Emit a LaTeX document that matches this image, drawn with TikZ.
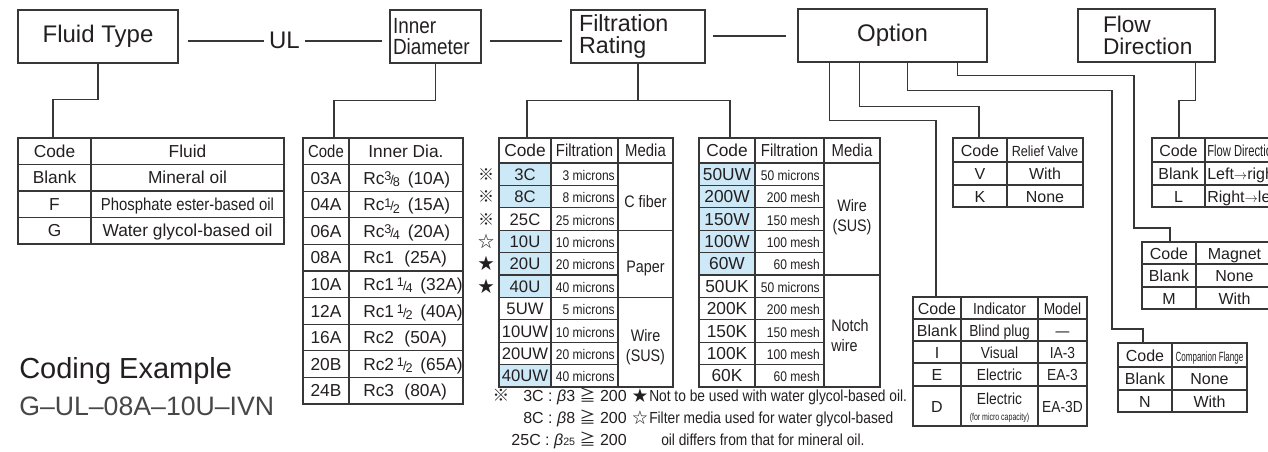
\documentclass[tikz,border=0pt]{standalone}
\usepackage{fontspec}
\setmainfont{Liberation Sans}
\newfontfamily\nrwfont[FakeStretch=0.86]{Liberation Sans}
\newfontfamily\cndfont[FakeStretch=0.7]{Liberation Sans}
\newfontfamily\cmpfont[FakeStretch=0.6]{Liberation Sans}
\newfontfamily\jpfont{Noto Sans CJK JP}
\usetikzlibrary{calc}

\definecolor{linegray}{RGB}{55,55,55}
\definecolor{textgray}{RGB}{35,31,32}
\definecolor{codeblue}{RGB}{205,232,246}

\newcommand{\frc}[2]{{\fontsize{9.5}{9.5}\selectfont\raisebox{0.55ex}{#1}\kern-0.08em/\kern-0.08em\raisebox{-0.35ex}{#2}}}

\tikzset{
  wire/.style={draw=linegray, line width=0.8pt},
  tline/.style={draw=linegray, line width=0.8pt},
  hbox/.style={draw=linegray, line width=0.8pt, text=textgray, inner sep=0pt, minimum height=39.75pt},
  htext/.style={text=textgray, inner sep=2pt, font=\fontsize{18}{20}\selectfont},
  cell/.style={inner sep=0pt, anchor=mid, yshift=-2pt, text=textgray, font=\fontsize{13}{14}\selectfont},
  ncell/.style={cell, font=\nrwfont\fontsize{13}{14}\selectfont},
  ccell/.style={cell, font=\fontsize{12.5}{14}\selectfont},
  mcell/.style={cell, anchor=mid east, font=\nrwfont\fontsize{10.5}{12}\selectfont},
  medcell/.style={cell, anchor=center, yshift=-1.5pt, align=center, font=\nrwfont\fontsize{12.5}{15}\selectfont},
  scell/.style={cell, font=\fontsize{12}{13}\selectfont},
  sncell/.style={cell, font=\nrwfont\fontsize{12}{13}\selectfont},
  symb/.style={cell, font=\jpfont\fontsize{12}{13}\selectfont},
  note/.style={inner sep=0pt, anchor=mid, yshift=-2pt, text=textgray, font=\fontsize{12}{13}\selectfont},
}

\begin{document}
\begin{tikzpicture}[x=0.75pt,y=-0.75pt]
\useasboundingbox (0,0) rectangle (1268,452);
\clip (0,0) rectangle (1268,452);

%%%%%%%%%%%%%%%%%%%Draw The Header Boxes%%%%%%%%%%%%%%%%%%
\node[hbox, minimum width=120pt, font=\fontsize{18}{20}\selectfont] (fluid) at (98,36.5) {Fluid Type};
\node[htext] (ul) at (284.5,40) {UL};
\node[hbox, text width=63.75pt, inner xsep=2.25pt, align=left, font=\nrwfont\fontsize{16.5}{16}\selectfont] (inner) at (435.5,36.5) {Inner\\Diameter};
\node[hbox, text width=88.5pt, inner xsep=6pt, align=left, font=\fontsize{17.5}{16}\selectfont] (filt) at (638,36.5) {Filtration\\Rating};
\node[hbox, minimum width=141.75pt, font=\fontsize{18}{20}\selectfont] (opt) at (892.5,35.5) {Option};
\node[hbox, text width=65.25pt, inner xsep=18.75pt, align=left, font=\fontsize{17}{16}\selectfont] (flow) at (1146.5,35.5) {Flow\\Direction};

%%%%%%%%%%%%%%%%%%%Draw The Lines Between Boxes%%%%%%%%%%%%%%%%%%
\draw[wire] ($(fluid.east)+(9,4.5)$) -- ($(ul.west)+(-2,1)$);
\draw[wire] ($(ul.east)+(2,1)$) -- ($(inner.west)+(-7,4.5)$);
\draw[wire] ($(inner.east)+(8,4.5)$) -- ($(filt.west)+(-8,4.5)$);
\draw[wire] ($(filt.east)+(7,-0.5)$) -- ($(opt.west)+(-11,0.5)$);

%%%%%%%%%%%%%%%%%%%Table Tops%%%%%%%%%%%%%%%%%%
\coordinate (fluidT) at (53,138);
\coordinate (innerT) at (334,138);
\coordinate (filtA) at (527,138);
\coordinate (filtB) at (730,138);
\coordinate (indT) at (936,297);
\coordinate (relT) at (979,138);
\coordinate (compT) at (1143,343);
\coordinate (magT) at (1170,242);
\coordinate (flowT) at (1179,138);

%%%%%%%%%%%%%%%%%%%Draw Connectors Down To Tables%%%%%%%%%%%%%%%%%%
\draw[wire] (fluid.south) -- ++(0,36) -| (fluidT);
\draw[wire] (inner.south) -- ++(0,37) -| (innerT);
\draw[wire] (filt.south) -- ++(0,37) coordinate (filtJ);
\draw[wire] (filtA) |- (filtJ) -| (filtB);
\draw[wire] ($(opt.south west)+(32,0)$) -- ++(0,58) -| (indT);
\draw[wire] ($(opt.south west)+(62,0)$) -- ++(0,44) -| (relT);
\draw[wire] ($(opt.south west)+(110,0)$) -- ++(0,28) -| (1112,329) -| (compT);
\draw[wire] ($(opt.south west)+(160,0)$) -- ++(0,13) -| (1134,228) -| (magT);
\draw[wire] ($(flow.south west)+(118,0)$) -- ++(0,38) -| (flowT);

%%%%%%%%%%%%%%%%%%%Fluid Table%%%%%%%%%%%%%%%%%%
\draw[tline] (18,138) rectangle (284,244);
\draw[tline] (91,138) -- (91,244);
\foreach \y in {164.5,191,217.5} \draw[tline] (18,\y) -- (284,\y);
\node[cell] (flc0) at (54.5,151) {Code};
\node[cell] (fld0) at (187.5,151) {Fluid};
\foreach \c/\d [count=\i] in {Blank/Mineral oil, F/{\nrwfont Phosphate ester-based oil}, G/Water glycol-based oil}
{
  \node[cell] (flc\i) at (54.5,{151+26.5*\i}) {\c};
  \node[cell] (fld\i) at (187.5,{151+26.5*\i}) {\d};
}

%%%%%%%%%%%%%%%%%%%Inner Diameter Table%%%%%%%%%%%%%%%%%%
\draw[tline] (303,138) rectangle (463,404);
\draw[tline] (349,138) -- (349,404);
\foreach \r in {1,...,9} \draw[tline] (303,{138+26.6*\r}) -- (463,{138+26.6*\r});
\node[ncell] (idc0) at (326,151.3) {Code};
\node[cell] (idd0) at (406,151.3) {Inner Dia.};
\foreach \c/\d [count=\i] in {03A/Rc\frc38\hspace{0.45em}(10A), 04A/Rc\frc12\hspace{0.45em}(15A), 06A/Rc\frc34\hspace{0.45em}(20A), 08A/Rc1\hspace{0.6em}(25A), 10A/Rc1\,\frc14\hspace{0.45em}(32A), 12A/Rc1\,\frc12\hspace{0.45em}(40A), 16A/Rc2\hspace{0.6em}(50A), 20B/Rc2\,\frc12\hspace{0.45em}(65A), 24B/Rc3\hspace{0.6em}(80A)}
{
  \node[cell] (idc\i) at (326,{151.3+26.6*\i}) {\c};
  \node[cell, anchor=mid west] (idd\i) at (363,{151.3+26.6*\i}) {\d};
}

%%%%%%%%%%%%%%%%%%%Filtration Table One%%%%%%%%%%%%%%%%%%
\foreach \r in {1,2,4,5,6,10} \fill[codeblue] (499,{163+22.4*(\r-1)}) rectangle (551,{163+22.4*\r});
\draw[tline] (499,138) rectangle (673,387);
\draw[tline] (551,138) -- (551,387) (618,138) -- (618,387);
\draw[tline] (499,163) -- (673,163) (499,230.2) -- (673,230.2) (499,297.4) -- (673,297.4);
\foreach \r in {1,2,4,5,7,8,9} \draw[tline] (499,{163+22.4*\r}) -- (618,{163+22.4*\r});
\node[cell] (fac0) at (525,150.5) {Code};
\node[ncell] (faf0) at (584.5,150.5) {Filtration};
\node[ncell] (fam0) at (645.5,150.5) {Media};
\foreach \c/\f [count=\i] in {3C/3 microns, 8C/8 microns, 25C/25 microns, 10U/10 microns, 20U/20 microns, 40U/40 microns, 5UW/5 microns, 10UW/10 microns, 20UW/20 microns, 40UW/40 microns}
{
  \node[ccell] (fac\i) at (525,{151.8+22.4*\i}) {\c};
  \node[mcell] (faf\i) at (615,{151.8+22.4*\i}) {\f};
}
\node[medcell] (fam1) at (645.5,197) {C fiber};
\node[medcell] (fam2) at (645.5,264) {Paper};
\node[medcell] (fam3) at (645.5,343) {Wire\\(SUS)};
\foreach \s [count=\i] in {※,※,※,☆,★,★} \node[symb] (fas\i) at (486,{151.8+22.4*\i}) {\s};

%%%%%%%%%%%%%%%%%%%Filtration Table Two%%%%%%%%%%%%%%%%%%
\foreach \r in {1,...,5} \fill[codeblue] (699,{163+22.4*(\r-1)}) rectangle (755,{163+22.4*\r});
\draw[tline] (699,138) rectangle (880,387);
\draw[tline] (755,138) -- (755,387) (824,138) -- (824,387);
\draw[tline] (699,163) -- (880,163) (699,275) -- (880,275);
\foreach \r in {1,2,3,4,6,7,8,9} \draw[tline] (699,{163+22.4*\r}) -- (824,{163+22.4*\r});
\node[cell] (fbc0) at (727,150.5) {Code};
\node[ncell] (fbf0) at (789.5,150.5) {Filtration};
\node[ncell] (fbm0) at (852,150.5) {Media};
\foreach \c/\f [count=\i] in {50UW/50 microns, 200W/200 mesh, 150W/150 mesh, 100W/100 mesh, 60W/60 mesh, 50UK/50 microns, 200K/200 mesh, 150K/150 mesh, 100K/100 mesh, 60K/60 mesh}
{
  \node[cell] (fbc\i) at (727,{151.8+22.4*\i}) {\c};
  \node[mcell] (fbf\i) at (820,{151.8+22.4*\i}) {\f};
}
\node[medcell] (fbm1) at (852,213) {Wire\\(SUS)};
\node[medcell, anchor=west, align=left] (fbm2) at (831,331) {Notch\\wire};

%%%%%%%%%%%%%%%%%%%Notes Under Filtration%%%%%%%%%%%%%%%%%%
\node[note, font=\jpfont\fontsize{12.5}{13}\selectfont] (nref) at (501,395) {※};
\node[note, anchor=mid east] (nb1) at (627,395) {3C : \textit{β}3 {\jpfont ≧} 200};
\node[note, anchor=mid east] (nb2) at (627,417) {8C : \textit{β}8 {\jpfont ≧} 200};
\node[note, anchor=mid east] (nb3) at (627,439) {25C : \textit{β}{\fontsize{8}{8}\selectfont 25} {\jpfont ≧} 200};
\node[note, font=\jpfont\fontsize{11.5}{12}\selectfont] (nst1) at (640,395) {★};
\node[note, font=\jpfont\fontsize{11.5}{12}\selectfont] (nst2) at (640,417) {☆};
\node[note, anchor=mid west, font=\nrwfont\fontsize{12}{13}\selectfont] (nt1) at (649,395) {Not to be used with water glycol-based oil.};
\node[note, anchor=mid west, font=\nrwfont\fontsize{12}{13}\selectfont] (nt2) at (649,417) {Filter media used for water glycol-based};
\node[note, anchor=mid west, font=\nrwfont\fontsize{12}{13}\selectfont] (nt3) at (661,439) {oil differs from that for mineral oil.};

%%%%%%%%%%%%%%%%%%%Relief Valve Table%%%%%%%%%%%%%%%%%%
\draw[tline] (953,138) rectangle (1083,207);
\draw[tline] (1007,138) -- (1007,207);
\foreach \y in {162,185} \draw[tline] (953,\y) -- (1083,\y);
\node[scell] (rvc0) at (980,150) {Code};
\node[cell, font=\nrwfont\fontsize{11}{12}\selectfont] (rvd0) at (1045,150) {Relief Valve};
\node[scell] (rvc1) at (980,173.5) {V};
\node[scell] (rvd1) at (1045,173.5) {With};
\node[scell] (rvc2) at (980,196) {K};
\node[scell] (rvd2) at (1045,196) {None};

%%%%%%%%%%%%%%%%%%%Indicator Table%%%%%%%%%%%%%%%%%%
\draw[tline] (913,297) rectangle (1087,426);
\draw[tline] (961,297) -- (961,426) (1038,297) -- (1038,426);
\foreach \y in {319,341,363,386} \draw[tline] (913,\y) -- (1087,\y);
\node[scell] (inc0) at (937,308) {Code};
\node[sncell] (ind0) at (999.5,308) {Indicator};
\node[sncell] (inm0) at (1062.5,308) {Model};
\foreach \c/\d/\m [count=\i] in {Blank/Blind plug/—, I/Visual/IA-3, E/Electric/EA-3}
{
  \node[scell] (inc\i) at (937,{308+22*\i}) {\c};
  \node[sncell] (ind\i) at (999.5,{308+22*\i}) {\d};
  \node[sncell] (inm\i) at (1062.5,{308+22*\i}) {\m};
}
\node[scell] (inc4) at (937,406) {D};
\node[sncell] (ind4) at (999.5,398.5) {Electric};
\node[cell, font=\cndfont\fontsize{7.5}{8}\selectfont] (ind5) at (999.5,414) {(for micro capacity)};
\node[sncell] (inm4) at (1062.5,406) {EA-3D};

%%%%%%%%%%%%%%%%%%%Flow Direction Table%%%%%%%%%%%%%%%%%%
\draw[tline] (1152,138) rectangle (1300,207);
\draw[tline] (1205,138) -- (1205,207);
\foreach \y in {162,185} \draw[tline] (1152,\y) -- (1300,\y);
\node[scell] (fdc0) at (1178.5,150) {Code};
\node[cell, anchor=mid west, font=\cndfont\fontsize{12}{13}\selectfont] (fdd0) at (1207,150) {Flow Direction};
\node[scell] (fdc1) at (1178.5,173.5) {Blank};
\node[scell, anchor=mid west] (fdd1) at (1207,173.5) {Left{\fontsize{10}{10}\selectfont$\rightarrow$}right};
\node[scell] (fdc2) at (1178.5,196) {L};
\node[scell, anchor=mid west] (fdd2) at (1207,196) {Right{\fontsize{10}{10}\selectfont$\rightarrow$}left};

%%%%%%%%%%%%%%%%%%%Magnet Table%%%%%%%%%%%%%%%%%%
\draw[tline] (1142,242) rectangle (1273,309);
\draw[tline] (1196,242) -- (1196,309);
\foreach \y in {264,287} \draw[tline] (1142,\y) -- (1273,\y);
\node[scell] (mgc0) at (1169,253) {Code};
\node[scell] (mgd0) at (1234.5,253) {Magnet};
\node[scell] (mgc1) at (1169,275.5) {Blank};
\node[scell] (mgd1) at (1234.5,275.5) {None};
\node[scell] (mgc2) at (1169,298) {M};
\node[scell] (mgd2) at (1234.5,298) {With};

%%%%%%%%%%%%%%%%%%%Companion Flange Table%%%%%%%%%%%%%%%%%%
\draw[tline] (1118,343) rectangle (1247,412);
\draw[tline] (1172,343) -- (1172,412);
\foreach \y in {367,390} \draw[tline] (1118,\y) -- (1247,\y);
\node[scell] (cfc0) at (1145,355) {Code};
\node[cell, font=\cmpfont\fontsize{10}{11}\selectfont] (cfd0) at (1209.5,355) {Companion Flange};
\node[scell] (cfc1) at (1145,378.5) {Blank};
\node[scell] (cfd1) at (1209.5,378.5) {None};
\node[scell] (cfc2) at (1145,401) {N};
\node[scell] (cfd2) at (1209.5,401) {With};

%%%%%%%%%%%%%%%%%%%Coding Example%%%%%%%%%%%%%%%%%%
\node[anchor=mid west, inner sep=0pt, text=textgray, font=\fontsize{21.75}{24}\selectfont] (codhead) at (19,375) {Coding Example};
\node[anchor=mid west, inner sep=0pt, text=black!72, font=\fontsize{20}{22}\selectfont] (codex) at (19,412) {G–UL–08A–10U–IVN};

\end{tikzpicture}
\end{document}
